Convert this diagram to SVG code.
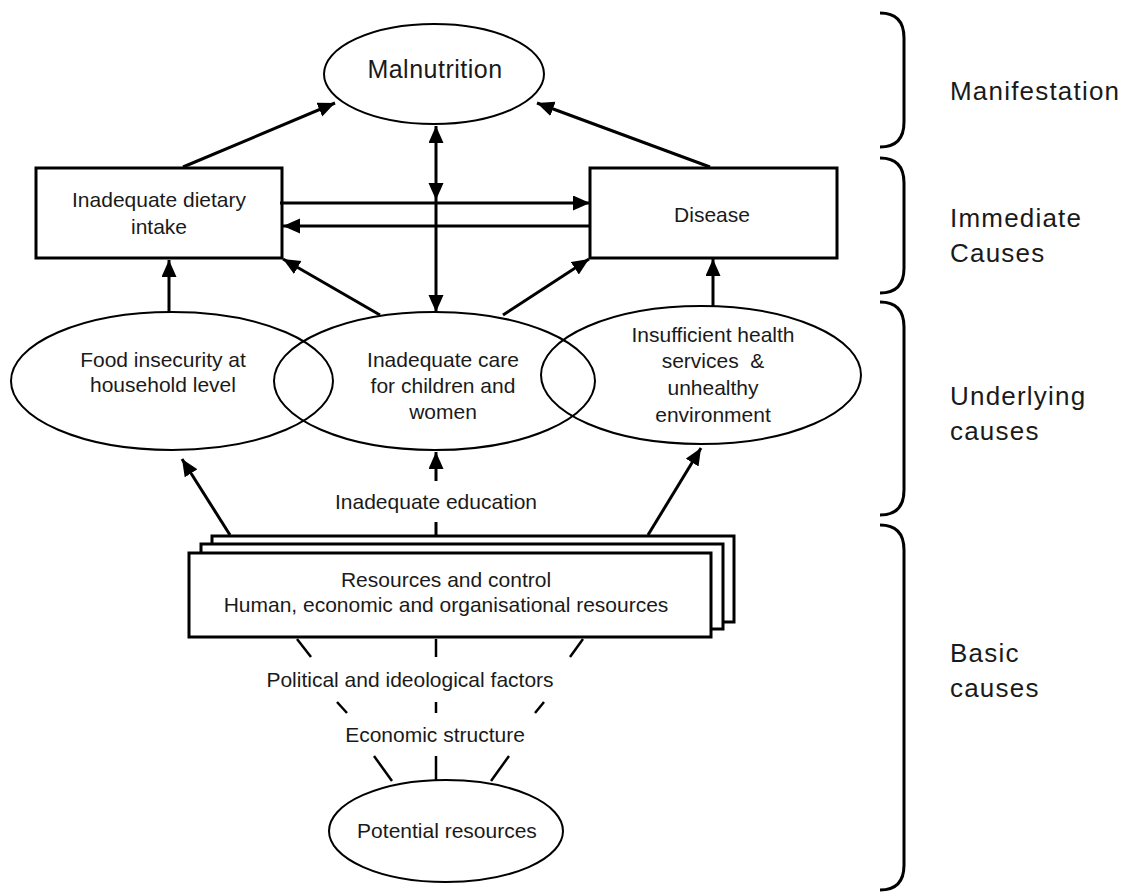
<svg xmlns="http://www.w3.org/2000/svg" width="1134" height="893" viewBox="0 0 1134 893">
<defs>
<marker id="ah" markerUnits="userSpaceOnUse" markerWidth="18" markerHeight="16" refX="17" refY="7.5" orient="auto-start-reverse">
<path d="M0,0 L17,7.5 L0,15 z" fill="#000"/>
</marker>
<style>
text{font-family:"Liberation Sans",Arial,sans-serif;fill:#1a1a1a;text-anchor:middle;font-size:21px}
.lab{text-anchor:start;font-size:26px;letter-spacing:1.2px}
.big{font-size:25px;letter-spacing:0.5px}
.box{fill:#fff;stroke:#000;stroke-width:3}
.ell{fill:none;stroke:#000;stroke-width:2}
.con{stroke:#000;stroke-width:3;fill:none}
.arr{stroke:#000;stroke-width:3;fill:none;marker-end:url(#ah)}
.dash{stroke:#000;stroke-width:2.5;fill:none}
.brace{stroke:#000;stroke-width:3;fill:none}
</style>
</defs>
<rect width="1134" height="893" fill="#fff"/>

<g id="malnutrition">
<ellipse class="ell" cx="434" cy="74" rx="110" ry="50"/>
<text class="big" x="435" y="78">Malnutrition</text>
</g>

<g id="dietary">
<rect class="box" x="36" y="168" width="246" height="90"/>
<text x="159" y="207">Inadequate dietary</text>
<text x="159" y="234">intake</text>
</g>

<g id="disease">
<rect class="box" x="590" y="168" width="247" height="90"/>
<text x="712" y="222">Disease</text>
</g>

<g id="food">
<ellipse class="ell" cx="172" cy="381" rx="161" ry="69"/>
<text x="163" y="367">Food insecurity at</text>
<text x="163" y="392">household level</text>
</g>

<g id="care">
<ellipse class="ell" cx="434.5" cy="381" rx="160.5" ry="69"/>
<text x="443" y="367">Inadequate care</text>
<text x="443" y="393">for children and</text>
<text x="443" y="419">women</text>
</g>

<g id="health">
<ellipse class="ell" cx="701" cy="375" rx="160" ry="69"/>
<text x="713" y="342">Insufficient health</text>
<text x="713" y="368" xml:space="preserve">services  &amp;</text>
<text x="713" y="395">unhealthy</text>
<text x="713" y="422">environment</text>
</g>

<g id="resources">
<rect class="box" x="212" y="536" width="522" height="86" stroke-width="2.5"/>
<rect class="box" x="201" y="544" width="522" height="85" stroke-width="2.5"/>
<rect class="box" x="189" y="553" width="522" height="84" stroke-width="2.5"/>
<text x="446" y="587">Resources and control</text>
<text x="446" y="612">Human, economic and organisational resources</text>
</g>

<g id="potential">
<ellipse class="ell" cx="446" cy="831" rx="117" ry="51"/>
<text x="447" y="838">Potential resources</text>
</g>

<g id="labels">
<text x="436" y="509">Inadequate education</text>
<text x="410" y="687">Political and ideological factors</text>
<text x="435" y="742">Economic structure</text>
</g>

<g id="connectors">
<line class="arr" x1="183" y1="167" x2="335" y2="103"/>
<line class="arr" x1="710" y1="167" x2="537" y2="103"/>
<line class="arr" x1="436" y1="200" x2="436" y2="126" style="marker-start:url(#ah)"/>
<line class="arr" x1="436" y1="200" x2="436" y2="312"/>
<line class="arr" x1="280" y1="203" x2="590" y2="203"/>
<line class="arr" x1="590" y1="226" x2="283" y2="226"/>
<line class="arr" x1="169" y1="313" x2="169" y2="260"/>
<line class="arr" x1="380" y1="315" x2="283" y2="259"/>
<line class="arr" x1="503" y1="315" x2="589" y2="259"/>
<line class="arr" x1="713" y1="306" x2="713" y2="259"/>
<line class="arr" x1="230" y1="535" x2="182" y2="459"/>
<line class="arr" x1="436" y1="481" x2="436" y2="452"/>
<line class="arr" x1="648" y1="535" x2="701" y2="448"/>
<line class="con" x1="436" y1="522" x2="436" y2="536"/>
<line class="dash" x1="297" y1="639" x2="311" y2="657"/>
<line class="dash" x1="337" y1="702" x2="347" y2="713"/>
<line class="dash" x1="374" y1="756" x2="392" y2="781"/>
<line class="dash" x1="436" y1="639" x2="436" y2="657"/>
<line class="dash" x1="436" y1="702" x2="436" y2="713"/>
<line class="dash" x1="436" y1="756" x2="436" y2="781"/>
<line class="dash" x1="583" y1="639" x2="570" y2="657"/>
<line class="dash" x1="544" y1="702" x2="535" y2="713"/>
<line class="dash" x1="509" y1="756" x2="491" y2="781"/>
</g>

<g id="braces">
<path class="brace" d="M880,13 C896,13 904,21 904,38 L904,122 C904,139 896,147 880,147"/>
<path class="brace" d="M880,158 C896,158 904,166 904,183 L904,268 C904,285 896,293 880,293"/>
<path class="brace" d="M880,302 C896,302 904,310 904,327 L904,490 C904,507 896,515 880,515"/>
<path class="brace" d="M880,525 C896,525 904,533 904,550 L904,865 C904,882 896,890 880,890"/>
</g>

<g id="levels">
<text class="lab" x="950" y="100">Manifestation</text>
<text class="lab" x="950" y="227">Immediate</text>
<text class="lab" x="950" y="262">Causes</text>
<text class="lab" x="950" y="405">Underlying</text>
<text class="lab" x="950" y="440">causes</text>
<text class="lab" x="950" y="662">Basic</text>
<text class="lab" x="950" y="697">causes</text>
</g>
</svg>
